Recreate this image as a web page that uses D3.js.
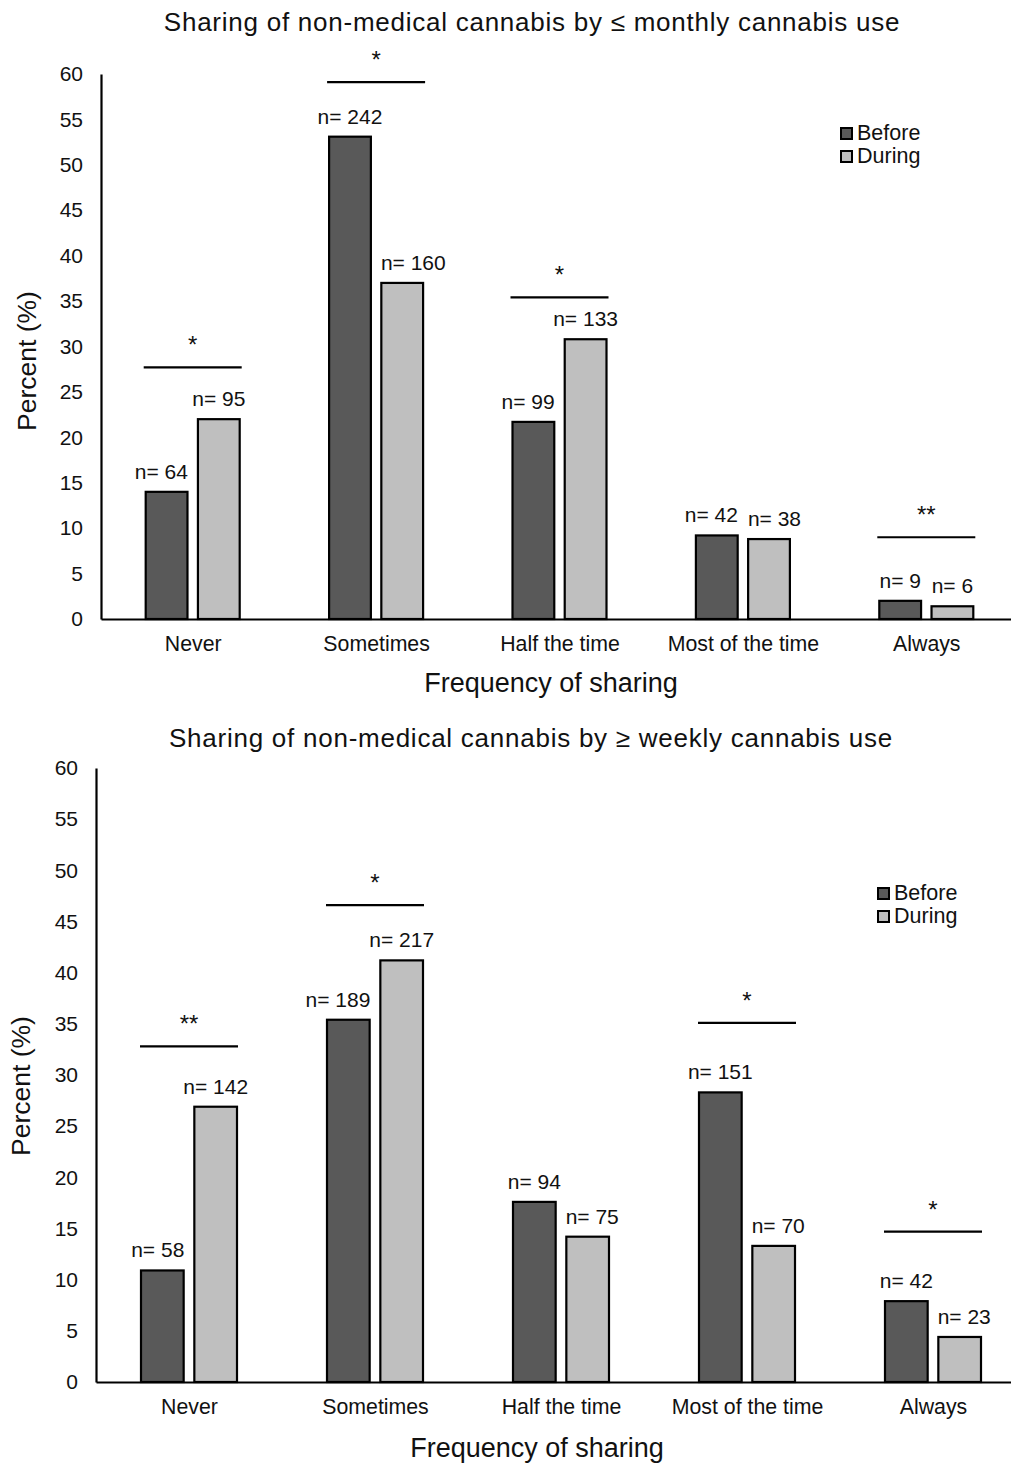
<!DOCTYPE html>
<html>
<head>
<meta charset="utf-8">
<script src="https://cdn.jsdelivr.net/npm/d3@7"></script>
<style>
  html, body { margin: 0; padding: 0; background: #fff; }
  svg text { font-family: "Liberation Sans", Arial, sans-serif; fill: #111; }
</style>
</head>
<body>
<svg id="chart" width="1011" height="1466"></svg>
<script>
// Response categories and series
const categories = ["Never", "Sometimes", "Half the time", "Most of the time", "Always"];
const seriesNames = ["Before", "During"];
const yTicks = [0, 5, 10, 15, 20, 25, 30, 35, 40, 45, 50, 55, 60];

// ≤ monthly users: percent and respondent counts
const monthlyBefore = [14.0, 53.1, 21.7, 9.2, 2.0];
const monthlyDuring = [22.0, 37.0, 30.8, 8.8, 1.4];
const monthlyNBefore = [64, 242, 99, 42, 9];
const monthlyNDuring = [95, 160, 133, 38, 6];
const monthlySig = [
  { category: "Never", level: 27.7, mark: "*" },
  { category: "Sometimes", level: 59.1, mark: "*" },
  { category: "Half the time", level: 35.4, mark: "*" },
  { category: "Always", level: 9.0, mark: "**" }
];

// ≥ weekly users: percent and respondent counts
const weeklyBefore = [10.9, 35.4, 17.6, 28.3, 7.9];
const weeklyDuring = [26.9, 41.2, 14.2, 13.3, 4.4];
const weeklyNBefore = [58, 189, 94, 151, 42];
const weeklyNDuring = [142, 217, 75, 70, 23];
const weeklySig = [
  { category: "Never", level: 32.8, mark: "**" },
  { category: "Sometimes", level: 46.6, mark: "*" },
  { category: "Most of the time", level: 35.1, mark: "*" },
  { category: "Always", level: 14.7, mark: "*" }
];

const fills = { Before: "#595959", During: "#bfbfbf" };
const svg = d3.select("#chart");

function drawPanel(cfg) {
  const g = svg.append("g");
  const y = d3.scaleLinear().domain([0, 60]).range([cfg.y0, cfg.y1]);
  const x0 = d3.scalePoint().domain(categories).range([cfg.xLeft, cfg.xRight]).padding(0.5);
  const x1 = d3.scaleBand().domain(seriesNames)
    .range([-cfg.groupWidth / 2, cfg.groupWidth / 2]).paddingInner(0.2);

  const rows = [];
  categories.forEach((c, i) => {
    rows.push({ category: c, series: "Before", value: cfg.before[i], n: cfg.nBefore[i] });
    rows.push({ category: c, series: "During", value: cfg.during[i], n: cfg.nDuring[i] });
  });

  // title
  g.append("text")
    .attr("x", cfg.titleX).attr("y", cfg.titleY)
    .attr("text-anchor", "middle")
    .style("font-size", "26px")
    .style("letter-spacing", "0.75px")
    .text(cfg.title);

  // y axis
  const yAxis = d3.axisLeft(y).tickValues(yTicks).tickSize(0).tickPadding(18);
  const ya = g.append("g").attr("transform", `translate(${cfg.xLeft},0)`).call(yAxis);
  ya.select(".domain").attr("stroke", "#000").attr("stroke-width", 2.2);
  ya.selectAll(".tick text").style("font-size", "21px").attr("fill", "#111");

  // bars
  g.selectAll("rect.bar").data(rows).enter().append("rect")
    .attr("class", "bar")
    .attr("x", d => x0(d.category) + x1(d.series))
    .attr("width", x1.bandwidth())
    .attr("y", d => y(d.value))
    .attr("height", d => y(0) - y(d.value))
    .attr("fill", d => fills[d.series])
    .attr("stroke", "#000")
    .attr("stroke-width", 2.2);

  // n labels, centred over each bar
  const labels = g.selectAll("text.nlab").data(rows).enter().append("text")
    .attr("class", "nlab")
    .attr("text-anchor", "middle")
    .style("font-size", "21px")
    .text(d => "n= " + d.n)
    .each(function (d) {
      d.cx = x0(d.category) + x1(d.series) + x1.bandwidth() / 2;
      d.base = y(d.value) - 13;
      d.w = this.getComputedTextLength();
    });

  // keep labels clear of a taller neighbouring bar and of each other
  const gap = 10;
  categories.forEach(c => {
    const [b, d] = rows.filter(r => r.category === c);
    const bLeft = x0(c) + x1("Before"), bRight = bLeft + x1.bandwidth();
    const dLeft = x0(c) + x1("During");
    if (y(b.value) < d.base + 4 && d.cx - d.w / 2 < bRight + gap) d.cx = bRight + gap + d.w / 2;
    if (y(d.value) < b.base + 4 && b.cx + b.w / 2 > dLeft - gap) b.cx = dLeft - gap - b.w / 2;
    const overlapY = Math.abs(b.base - d.base) < 18;
    const room = (d.cx - d.w / 2) - (b.cx + b.w / 2);
    if (overlapY && room < gap) {
      const s = (gap - room) / 2;
      b.cx -= s; d.cx += s;
    }
  });
  labels.attr("x", d => d.cx).attr("y", d => d.base);

  // x axis
  const xAxis = d3.axisBottom(x0).tickSize(0).tickPadding(17);
  const xa = g.append("g").attr("transform", `translate(0,${y(0)})`).call(xAxis);
  xa.select(".domain").attr("stroke", "#000").attr("stroke-width", 2.2);
  xa.selectAll(".tick text").style("font-size", "21.3px").attr("fill", "#111");

  // significance markers
  cfg.sig.forEach(s => {
    const cx = x0(s.category);
    g.append("line")
      .attr("x1", cx - 49).attr("x2", cx + 49)
      .attr("y1", y(s.level)).attr("y2", y(s.level))
      .attr("stroke", "#000").attr("stroke-width", 2.2);
    g.append("text")
      .attr("x", cx).attr("y", y(s.level) - 14)
      .attr("text-anchor", "middle")
      .style("font-size", "24px")
      .text(s.mark);
  });

  // axis titles
  g.append("text")
    .attr("x", cfg.xTitleX).attr("y", cfg.xTitleY)
    .attr("text-anchor", "middle")
    .style("font-size", "27px")
    .text("Frequency of sharing");
  g.append("text")
    .attr("transform", `translate(${cfg.yTitleX},${cfg.yTitleY}) rotate(-90)`)
    .attr("text-anchor", "middle")
    .style("font-size", "26.5px")
    .text("Percent (%)");

  // legend
  const lg = g.append("g").attr("transform", `translate(${cfg.legendX},${cfg.legendY})`);
  seriesNames.forEach((s, i) => {
    lg.append("rect")
      .attr("x", 0).attr("y", i * 23 - 12)
      .attr("width", 11).attr("height", 11)
      .attr("fill", fills[s]).attr("stroke", "#000").attr("stroke-width", 2);
    lg.append("text")
      .attr("x", 16).attr("y", i * 23)
      .style("font-size", "21.5px")
      .text(s);
  });
}

drawPanel({
  title: "Sharing of non-medical cannabis by \u2264 monthly cannabis use",
  titleX: 532, titleY: 31,
  y0: 619, y1: 74, xLeft: 101, xRight: 1018, groupWidth: 94,
  before: monthlyBefore, during: monthlyDuring,
  nBefore: monthlyNBefore, nDuring: monthlyNDuring,
  sig: monthlySig,
  xTitleX: 551, xTitleY: 692,
  yTitleX: 36, yTitleY: 361,
  legendX: 841, legendY: 140
});

drawPanel({
  title: "Sharing of non-medical cannabis by \u2265 weekly cannabis use",
  titleX: 531, titleY: 747,
  y0: 1382, y1: 768, xLeft: 96, xRight: 1026, groupWidth: 96,
  before: weeklyBefore, during: weeklyDuring,
  nBefore: weeklyNBefore, nDuring: weeklyNDuring,
  sig: weeklySig,
  xTitleX: 537, xTitleY: 1457,
  yTitleX: 30, yTitleY: 1086,
  legendX: 878, legendY: 900
});
</script>
</body>
</html>
